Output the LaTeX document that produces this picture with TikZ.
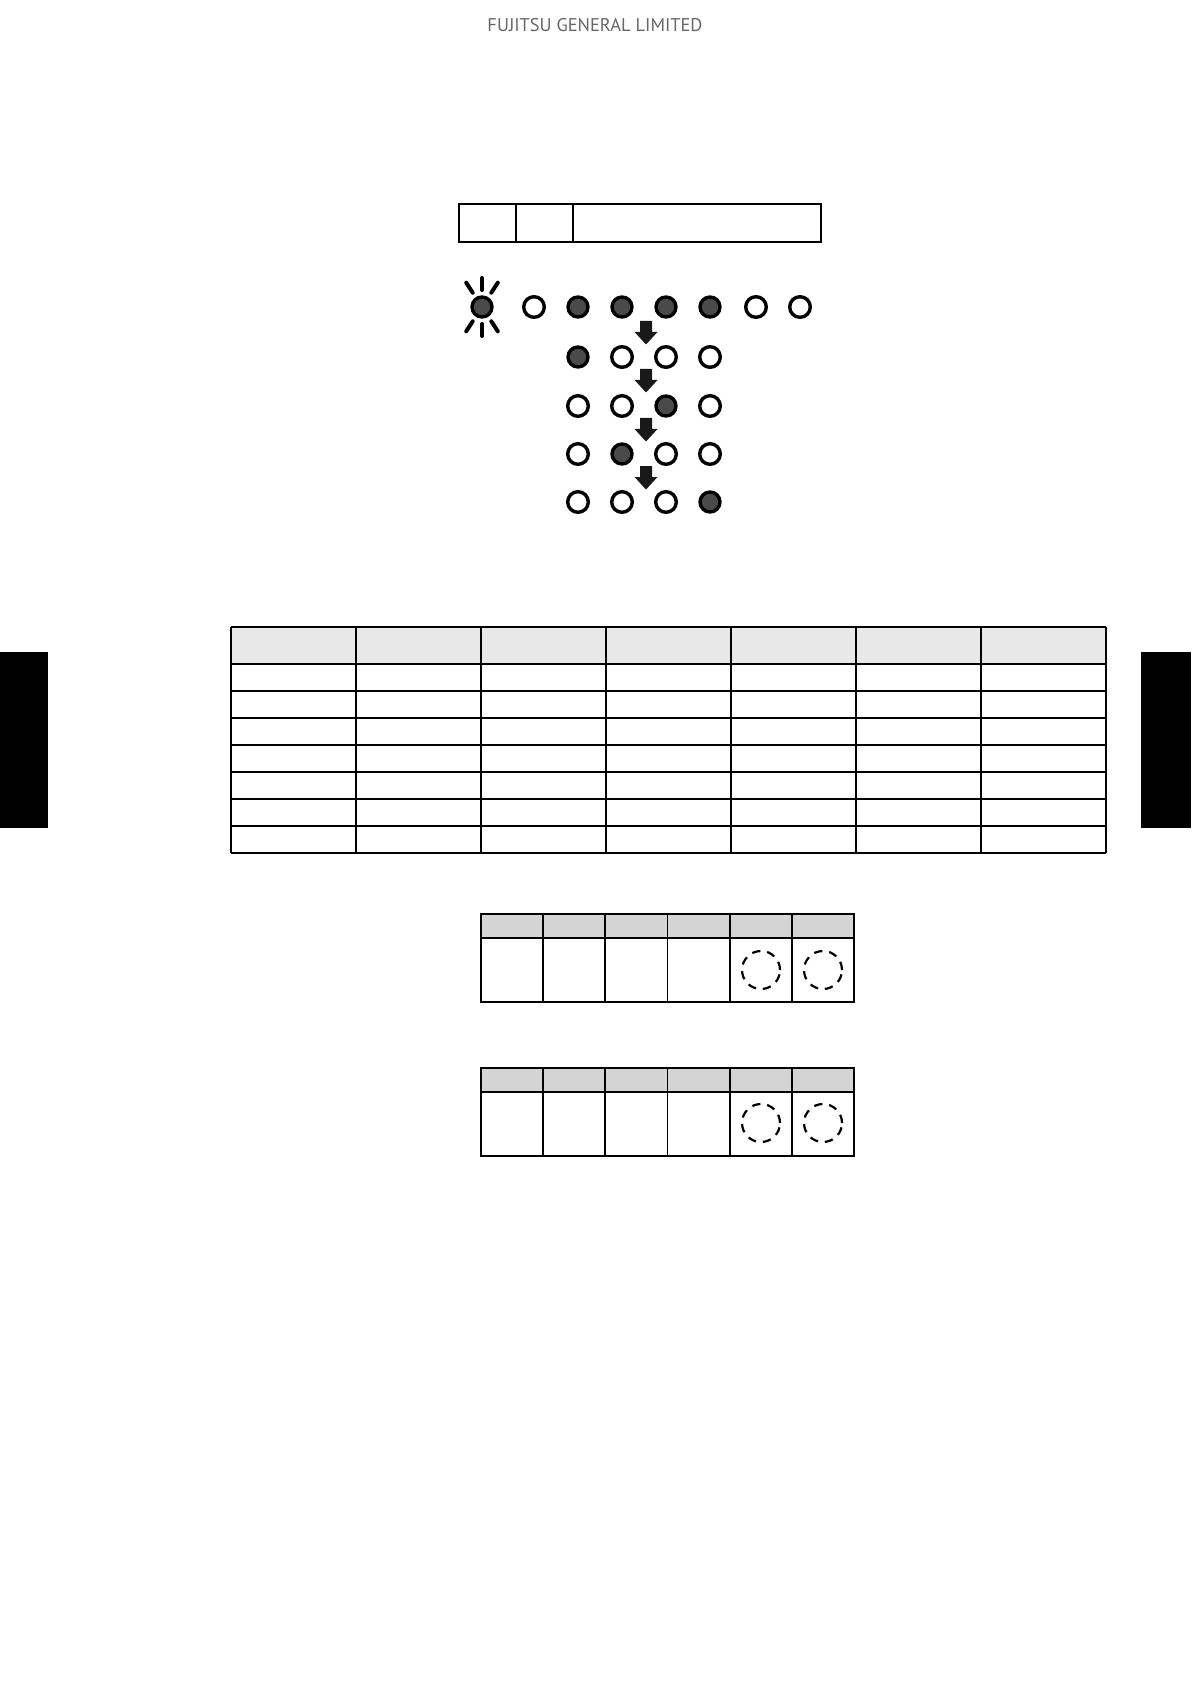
\documentclass[tikz,border=0pt]{standalone}
\usepackage{fontspec}
\setmainfont{PT Sans}
\usetikzlibrary{calc}
\definecolor{ledgray}{HTML}{4A4A4A}
\definecolor{hdrgray}{HTML}{666666}
\definecolor{bighead}{HTML}{E8E8E8}
\definecolor{smallhead}{HTML}{D4D4D4}
\begin{document}
\begin{tikzpicture}[x=0.5pt,y=-0.5pt,
  ledon/.style={circle, draw=black, fill=ledgray, line width=1.7pt, minimum size=10pt, inner sep=0pt},
  ledoff/.style={circle, draw=black, fill=white, line width=1.7pt, minimum size=10.3pt, inner sep=0pt},
  ray/.style={line width=2pt, line cap=round},
  downarrow/.style={fill=black!90},
  boxline/.style={line width=1.2pt},
  bigtab/.style={line width=0.9pt},
  smalltab/.style={line width=0.75pt},
  dashcirc/.style={line width=1.1pt, dash pattern=on 4.2pt off 3.4pt}
]
\useasboundingbox (0,0) rectangle (1191,1684);
% header
\node[text=hdrgray, font=\fontsize{9.2}{11}\selectfont] (hdr) at (595,25) {FUJITSU GENERAL LIMITED};
% side tabs
\fill[black] (0,652) rectangle (48,828);
\fill[black] (1141,652) rectangle (1191,828);
% top box
\draw[boxline] (459,204) rectangle (821,242);
\draw[boxline] (516,204) -- (516,242);
\draw[boxline] (573,204) -- (573,242);
% LEDs row 1
\node[ledon] (b0) at (482,307) {};
\foreach \a in {57,90,123,237,270,303}
  \draw[ray] ($(b0)+(\a:17)$) -- ($(b0)+(\a:29)$);
\node[ledoff] (r1a) at (534,307) {};
\node[ledon]  (r1b) at (578,307) {};
\node[ledon]  (r1c) at (622,307) {};
\node[ledon]  (r1d) at (666,307) {};
\node[ledon]  (r1e) at (710,307) {};
\node[ledoff] (r1f) at (756,307) {};
\node[ledoff] (r1g) at (800,307) {};
% row 2
\node[ledon]  (r2a) at (578,357) {};
\node[ledoff] (r2b) at (622,357) {};
\node[ledoff] (r2c) at (666,357) {};
\node[ledoff] (r2d) at (710,357) {};
% row 3
\node[ledoff] (r3a) at (578,406) {};
\node[ledoff] (r3b) at (622,406) {};
\node[ledon]  (r3c) at (666,406) {};
\node[ledoff] (r3d) at (710,406) {};
% row 4
\node[ledoff] (r4a) at (578,454) {};
\node[ledon]  (r4b) at (622,454) {};
\node[ledoff] (r4c) at (666,454) {};
\node[ledoff] (r4d) at (710,454) {};
% row 5
\node[ledoff] (r5a) at (578,502) {};
\node[ledoff] (r5b) at (622,502) {};
\node[ledoff] (r5c) at (666,502) {};
\node[ledon]  (r5d) at (710,502) {};
% arrows
\foreach \t in {321,369,418,466}{
  \fill[downarrow] (640,\t) -- (652,\t) -- (652,\t+11) -- (657.5,\t+11)
     -- (646,\t+23.5) -- (634.5,\t+11) -- (640,\t+11) -- cycle;
}
% big table
\fill[bighead] (231,627) rectangle (1106,664);
\foreach \yy in {627,664,691,718,745,772,799,826,853}
  \draw[bigtab] (231,\yy) -- (1106,\yy);
\foreach \xx in {231,356,481,606,731,856,981,1106}
  \draw[bigtab] (\xx,627) -- (\xx,853);
% small table 1
\fill[smallhead] (481,914) rectangle (854,938);
\draw[smalltab] (481,914) rectangle (854,1002);
\draw[smalltab] (481,938) -- (854,938);
\foreach \xx in {543,605,667.5,730,792}
  \draw[smalltab] (\xx,914) -- (\xx,1002);
\node[circle, minimum size=19pt, draw, dashcirc, inner sep=0pt] (c1a) at (761,970) {};
\node[circle, minimum size=19pt, draw, dashcirc, inner sep=0pt] (c1b) at (823,970) {};
% small table 2
\fill[smallhead] (481,1068) rectangle (854,1092);
\draw[smalltab] (481,1068) rectangle (854,1156);
\draw[smalltab] (481,1092) -- (854,1092);
\foreach \xx in {543,605,667.5,730,792}
  \draw[smalltab] (\xx,1068) -- (\xx,1156);
\node[circle, minimum size=19pt, draw, dashcirc, inner sep=0pt] (c2a) at (761,1123) {};
\node[circle, minimum size=19pt, draw, dashcirc, inner sep=0pt] (c2b) at (823,1123) {};
\end{tikzpicture}
\end{document}
